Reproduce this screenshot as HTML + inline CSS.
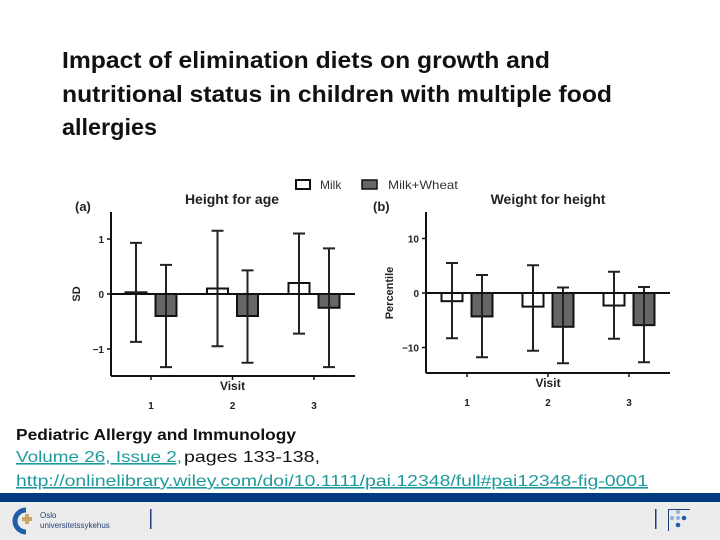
<!DOCTYPE html>
<html><head><meta charset="utf-8"><style>
html,body{margin:0;padding:0;background:#fff;}
svg{display:block;font-family:"Liberation Sans",Arial,sans-serif;}
</style></head><body>
<svg id="s" width="720" height="540" viewBox="0 0 720 540" xmlns="http://www.w3.org/2000/svg">
<g font-weight="bold" font-size="23" fill="#111">
<text x="62" y="68" textLength="488" lengthAdjust="spacingAndGlyphs">Impact of elimination diets on growth and</text>
<text x="62" y="102" textLength="550" lengthAdjust="spacingAndGlyphs">nutritional status in children with multiple food</text>
<text x="62" y="135" textLength="95" lengthAdjust="spacingAndGlyphs">allergies</text>
</g>
<g font-size="12" fill="#333">
<rect x="296" y="180" width="14" height="9" fill="#fff" stroke="#111" stroke-width="2"/>
<text x="320" y="189">Milk</text>
<rect x="362" y="180" width="15" height="9" fill="#666" stroke="#111" stroke-width="1.5"/>
<text x="388" y="189" textLength="70" lengthAdjust="spacingAndGlyphs">Milk+Wheat</text>
</g>
<g id="pa"></g>
<g id="pb"></g>
<g font-size="16">
<text x="16" y="440" font-weight="bold" fill="#111" textLength="280" lengthAdjust="spacingAndGlyphs">Pediatric Allergy and Immunology</text>
<text x="16" y="462" fill="#1f9a9a" text-decoration="underline" textLength="166" lengthAdjust="spacingAndGlyphs">Volume 26, Issue 2, </text>
<text x="184" y="462" fill="#111" textLength="136" lengthAdjust="spacingAndGlyphs">pages 133-138,</text>
<text x="16" y="486" fill="#1f9a9a" text-decoration="underline" textLength="632" lengthAdjust="spacingAndGlyphs">http://onlinelibrary.wiley.com/doi/10.1111/pai.12348/full#pai12348-fig-0001</text>
</g>
<rect x="0" y="493" width="720" height="9" fill="#003a80"/>
<rect x="0" y="502" width="720" height="38" fill="#ececec"/>
<g>
<path d="M26 510 A11 11 0 1 0 26 532" fill="none" stroke="#1f5fa8" stroke-width="5"/>
<rect x="22" y="517" width="10" height="4" fill="#c7a86a"/><rect x="25" y="514" width="4" height="10" fill="#c7a86a"/>
<text x="40" y="518" font-size="8" fill="#1f3f7a">Oslo</text>
<text x="40" y="528" font-size="8" fill="#1f3f7a">universitetssykehus</text>
<rect x="150" y="509" width="1.5" height="20" fill="#1f3f7a"/>
</g>
<g>
<rect x="655" y="509" width="1.5" height="20" fill="#1f3f7a"/>
<rect x="668" y="509" width="1" height="22" fill="#1f3f7a"/><rect x="668" y="509" width="22" height="1" fill="#1f3f7a"/>
<circle cx="678" cy="512" r="2" fill="#8fb0d8"/><circle cx="672" cy="518" r="2" fill="#8fb0d8"/><circle cx="678" cy="518" r="2" fill="#8fb0d8"/><circle cx="684" cy="518" r="2.3" fill="#1f5fa8"/><circle cx="678" cy="525" r="2.3" fill="#1f5fa8"/>
</g>
</svg>
<script>
const visits = ["1","2","3"];
const aMilk = [0.03, 0.1, 0.2];
const aMilkHi = [0.93, 1.15, 1.1];
const aMilkLo = [-0.87, -0.95, -0.72];
const aWheat = [-0.4, -0.4, -0.25];
const aWheatHi = [0.53, 0.43, 0.83];
const aWheatLo = [-1.33, -1.25, -1.33];
const aTicks = [1, 0, -1];
const aTickLabels = ["1", "0", "\u22121"];
const bMilk = [-1.5, -2.5, -2.3];
const bMilkHi = [5.5, 5.1, 3.9];
const bMilkLo = [-8.3, -10.6, -8.4];
const bWheat = [-4.3, -6.2, -5.9];
const bWheatHi = [3.3, 1.0, 1.1];
const bWheatLo = [-11.8, -12.9, -12.7];
const bTicks = [10, 0, -10];
const bTickLabels = ["10", "0", "\u221210"];
const NS = "http://www.w3.org/2000/svg";
function mk(p, tag, at){const e=document.createElementNS(NS,tag);for(const k in at)e.setAttribute(k,at[k]);p.appendChild(e);return e;}
function panel(g, o){
  const y = v => o.y0 - v*o.k;
  const x = i => o.t0 + i*o.step;
  mk(g,'line',{x1:o.ax,y1:o.top,x2:o.ax,y2:o.bot,stroke:'#111','stroke-width':2});
  mk(g,'line',{x1:o.ax,y1:o.bot,x2:o.ax+244,y2:o.bot,stroke:'#111','stroke-width':2});
  o.ticks.forEach((t,i)=>{
    mk(g,'line',{x1:o.ax-4,y1:y(t),x2:o.ax,y2:y(t),stroke:'#111','stroke-width':1.5});
    const tx=mk(g,'text',{x:o.ax-7,y:y(t)+4,'font-size':10,'font-weight':'bold','text-anchor':'end',fill:'#222'});
    
    
    tx.textContent=o.tl[i];
  });
  const data=[[o.m,o.mh,o.ml,'#fff',-15,'milk'],[o.w,o.wh,o.wl,'#666',15,'milk-wheat']];
  visits.forEach((v,i)=>{
    mk(g,'line',{x1:x(i),y1:o.bot,x2:x(i),y2:o.bot+4,stroke:'#111','stroke-width':1.5});
    const lb=mk(g,'text',{x:x(i),y:o.bot+33,'font-size':10,'font-weight':'bold','text-anchor':'middle',fill:'#222'});
    
    
    lb.textContent=v;
    data.forEach(d=>{
      const c=x(i)+d[4], val=d[0][i];
      const r=mk(g,'rect',{x:c-10.5,y:Math.min(y(val),y(0)),width:21,height:Math.max(1,Math.abs(y(val)-y(0))),fill:d[3],stroke:'#111','stroke-width':2});
      
      
      const eb=mk(g,'path',{d:`M${c} ${y(d[1][i])}V${y(d[2][i])}M${c-6} ${y(d[1][i])}H${c+6}M${c-6} ${y(d[2][i])}H${c+6}`,stroke:'#222',fill:'none','stroke-width':2});
      
      
    });
  });
  mk(g,'line',{x1:o.ax,y1:y(0),x2:o.ax+244,y2:y(0),stroke:'#111','stroke-width':2});
  const vt=mk(g,'text',{x:(o.t0+o.step),y:o.bot+14,'font-size':12,'font-weight':'bold','text-anchor':'middle',fill:'#222'});
  
  
  vt.textContent='Visit';
  const ti=mk(g,'text',{x:o.tx,y:204,'font-size':14,'font-weight':'bold','text-anchor':'middle',fill:'#222'});
  
  
  ti.textContent=o.title;
  const pl=mk(g,'text',{x:o.lx,y:211,'font-size':13,'font-weight':'bold',fill:'#222'});
  
  
  pl.textContent=o.label;
  const yt=mk(g,'text',{x:0,y:0,'font-size':11,'font-weight':'bold','text-anchor':'middle',fill:'#222',transform:`translate(${o.yx},${o.y0}) rotate(-90)`});
  
  
  yt.textContent=o.ylab;
}
panel(document.getElementById('pa'),{ax:111,top:212,bot:376,y0:294,k:55,t0:151,step:81.5,ticks:aTicks,tl:aTickLabels,m:aMilk,mh:aMilkHi,ml:aMilkLo,w:aWheat,wh:aWheatHi,wl:aWheatLo,title:'Height for age',tx:232,label:'(a)',lx:75,ylab:'SD',yx:80});
panel(document.getElementById('pb'),{ax:426,top:212,bot:373,y0:293,k:5.45,t0:467,step:81,ticks:bTicks,tl:bTickLabels,m:bMilk,mh:bMilkHi,ml:bMilkLo,w:bWheat,wh:bWheatHi,wl:bWheatLo,title:'Weight for height',tx:548,label:'(b)',lx:373,ylab:'Percentile',yx:393});
</script>
</body></html>
